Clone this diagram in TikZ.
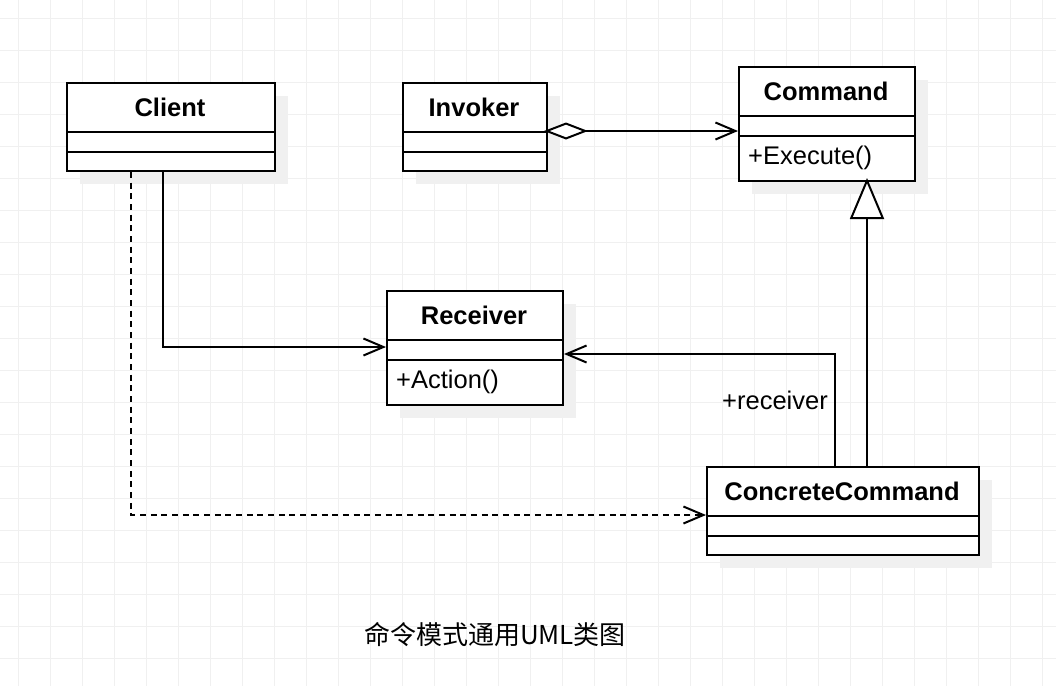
\documentclass[tikz,border=0pt]{standalone}
\usepackage{fontspec}
\setmainfont{Liberation Sans}
\newfontfamily\cjk{Noto Sans CJK SC}
\usetikzlibrary{arrows.meta,calc}
\definecolor{gridc}{RGB}{240,240,240}
\definecolor{shadowc}{RGB}{240,240,240}
\tikzset{
  conn/.style={line width=2pt, draw=black},
  openhead/.style={-{Straight Barb[length=20pt,width=17pt,line width=2pt]}},
  clsbox/.style={draw=black, line width=2pt, fill=white, inner sep=0pt, anchor=north west},
  clstitle/.style={font=\fontsize{25.5}{30}\selectfont\bfseries, inner sep=0pt},
  member/.style={font=\fontsize{25.5}{30}\selectfont, inner sep=0pt, anchor=west},
  seprule/.style={line width=2pt},
  shadowbox/.style={fill=shadowc}
}
\newcommand\umlclass[8]{% name, x, y, w, h, title, sep1, sep2
  \fill[shadowbox] (#2+14,#3+14) rectangle (#2+#4+14,#3+#5+14);
  \node[clsbox, minimum width=#4pt, minimum height=#5pt] (#1) at (#2,#3) {};
  \node[clstitle] (#1-title) at (#2+#4/2,{(#3+#7)/2}) {#6};
  \draw[seprule] (#2,#7) -- (#2+#4,#7);
  \draw[seprule] (#2,#8) -- (#2+#4,#8);
}
\begin{document}
\begin{tikzpicture}[x=1pt,y=-1pt]
\useasboundingbox (0,0) rectangle (1056,686);
\fill[white] (0,0) rectangle (1056,686);
\foreach \g in {18,50,...,1050} \draw[gridc, line width=1pt] (\g,0) -- (\g,686);
\foreach \g in {18,50,...,682} \draw[gridc, line width=1pt] (0,\g) -- (1056,\g);

\umlclass{client}{66}{82}{208}{88}{Client}{132}{152}
\umlclass{invoker}{402}{82}{144}{88}{Invoker}{132}{152}
\umlclass{command}{738}{66}{176}{114}{Command}{116}{136}
\umlclass{receiver}{386}{290}{176}{114}{Receiver}{340}{360}
\umlclass{concrete}{706}{466}{272}{88}{ConcreteCommand}{516}{536}

\node[member] (execute) at (748,158) {+Execute()};
\node[member] (action) at (396,382) {+Action()};

% aggregation Invoker -> Command
\draw[conn, shorten <=-4pt, {Diamond[open,fill=white,length=44pt,width=17pt,line width=2pt]}-{Straight Barb[length=20pt,width=17pt,line width=2pt]}]
  ([yshift=-4pt]invoker.east) -- ([yshift=-7pt]command.west);
% generalization
\draw[conn, shorten >=-4pt, -{Triangle[open,fill=white,length=41pt,width=34pt,line width=2pt]}]
  ([xshift=24pt]concrete.north) -- ([xshift=40pt]command.south);
% association ConcreteCommand -> Receiver
\draw[conn, openhead] ([xshift=-8pt]concrete.north) |- ([yshift=-6pt]receiver.east);
\node[font=\fontsize{25.5}{30}\selectfont, inner sep=0pt, anchor=east] (rcvlabel) at (828,400) {+receiver};
% Client -> Receiver
\draw[conn, openhead] ([xshift=-8pt]client.south) |- ([yshift=1pt]receiver.west);
% Client dependency -> ConcreteCommand
\draw[conn, openhead, dash pattern=on 6pt off 4.67pt] ([xshift=-40pt]client.south) |- ([yshift=-4pt]concrete.west);

\node[font=\cjk\fontsize{26}{30}\selectfont, inner sep=0pt] (caption) at (495,635) {命令模式通用UML类图};
\end{tikzpicture}
\end{document}
